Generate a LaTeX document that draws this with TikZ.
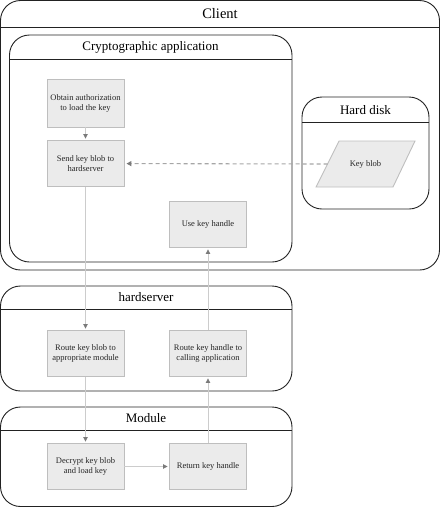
\documentclass[tikz,border=0pt]{standalone}
\usepackage{fontspec}
\setmainfont{Liberation Serif}
\usetikzlibrary{arrows.meta}
\definecolor{boxfill}{HTML}{EBEBEB}
\definecolor{boxdraw}{HTML}{BEBEBE}
\definecolor{linkc}{HTML}{CCCCCC}
\definecolor{tipc}{HTML}{7A7A7A}
\definecolor{framec}{HTML}{222222}
\tikzset{
  stepbox/.style={draw=boxdraw, line width=0.9pt, fill=boxfill, minimum width=77pt, minimum height=46pt,
    inner sep=1pt, align=center, font=\fontsize{8.5}{10}\selectfont, text=black!85},
  frame/.style={draw=framec, line width=0.9pt, rounded corners=20pt},
  hline/.style={draw=framec, line width=0.9pt},
  ttl/.style={font=\fontsize{13}{15}\selectfont, text=black},
  link/.style={draw=linkc, line width=0.8pt, -{Triangle[length=4.5pt,width=4.5pt,color=tipc]}, shorten >=1.5pt},
  dlink/.style={draw=black!35, line width=1.1pt, dash pattern=on 4pt off 3pt, -{Triangle[length=5pt,width=5pt,color=tipc]}, shorten >=2pt},
}
\begin{document}
\begin{tikzpicture}[x=1pt,y=-1pt]
\useasboundingbox (0,0) rectangle (440,507);
% Client
\draw[frame] (0.5,0.5) rectangle (439.5,270);
\draw[hline] (0.5,27) -- (439.5,27);
\node[ttl, font=\fontsize{14.5}{16}\selectfont] (clientT) at (220,13.5) {Client};
% Cryptographic application
\draw[frame] (9.5,35) rectangle (292,262);
\draw[hline] (9.5,59) -- (292,59);
\node[ttl] (cryptoT) at (150.5,47) {Cryptographic application};
% Hard disk
\draw[frame] (302,97) rectangle (429,209);
\draw[hline] (302,122) -- (429,122);
\node[ttl] (diskT) at (365.5,110) {Hard disk};
% hardserver
\draw[frame] (0.5,286) rectangle (292,391);
\draw[hline] (0.5,309) -- (292,309);
\node[ttl] (hsT) at (146,297.5) {hardserver};
% Module
\draw[frame] (0.5,407) rectangle (292,506.5);
\draw[hline] (0.5,430) -- (292,430);
\node[ttl] (modT) at (146,418.5) {Module};
% boxes
\node[stepbox, minimum height=48pt] (obtain) at (85.5,103) {Obtain authorization\\to load the key};
\node[stepbox] (send) at (85.5,163.5) {Send key blob to\\hardserver};
\node[stepbox] (use) at (208,224.5) {Use key handle};
\node[stepbox] (route1) at (85.5,353.5) {Route key blob to\\appropriate module};
\node[stepbox] (route2) at (208,353.5) {Route key handle to\\calling application};
\node[stepbox] (decrypt) at (85.5,466.5) {Decrypt key blob\\and load key};
\node[stepbox] (ret) at (208,466.5) {Return key handle};
% key blob parallelogram
\draw[draw=boxdraw, line width=0.9pt, fill=boxfill] (339,141) -- (415,141) -- (393,187) -- (316,187) -- cycle;
\node[font=\fontsize{8.5}{10}\selectfont, text=black!85] (keyblob) at (365.5,164) {Key blob};
\coordinate (kbl) at (327.5,164);
% connectors
\draw[link] (obtain) -- (send);
\draw[link] (send) -- (route1);
\draw[link] (route1) -- (decrypt);
\draw[link] (decrypt) -- (ret);
\draw[link] (ret) -- (route2);
\draw[link] (route2) -- (use);
\draw[dlink] (kbl) -- (send);
\end{tikzpicture}
\end{document}
